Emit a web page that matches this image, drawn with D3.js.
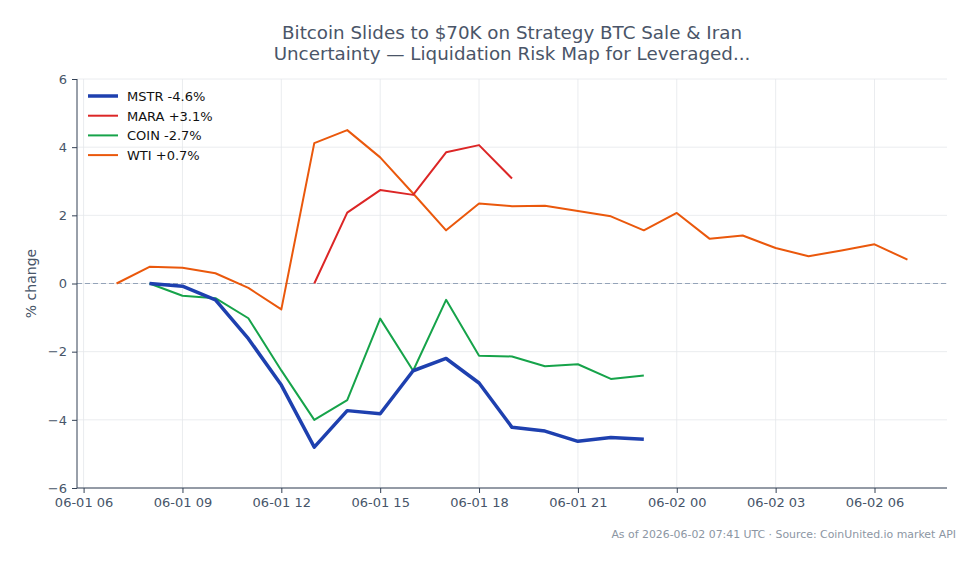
<!DOCTYPE html>
<html>
<head>
<meta charset="utf-8">
<script src="https://cdn.jsdelivr.net/npm/d3@7"></script>
<style>
  body { margin: 0; background: #fff; font-family: "DejaVu Sans", sans-serif; }
  .axis text { fill: #475569; font-size: 13px; font-family: "DejaVu Sans", sans-serif; }
  .axis path, .axis line { stroke: #334155; }
</style>
</head>
<body>
<div id="chart"></div>
<script>
// hourly timestamps (UTC)
var mstrTimes = ["2026-06-01T08", "2026-06-01T09", "2026-06-01T10", "2026-06-01T11", "2026-06-01T12", "2026-06-01T13", "2026-06-01T14", "2026-06-01T15", "2026-06-01T16", "2026-06-01T17", "2026-06-01T18", "2026-06-01T19", "2026-06-01T20", "2026-06-01T21", "2026-06-01T22", "2026-06-01T23"];
var mstrValues = [0, -0.08, -0.48, -1.62, -2.98, -4.8, -3.73, -3.82, -2.56, -2.2, -2.92, -4.22, -4.33, -4.63, -4.52, -4.57];

var maraTimes = ["2026-06-01T13", "2026-06-01T14", "2026-06-01T15", "2026-06-01T16", "2026-06-01T17", "2026-06-01T18", "2026-06-01T19"];
var maraValues = [0, 2.08, 2.74, 2.6, 3.85, 4.06, 3.08];

var coinTimes = mstrTimes;
var coinValues = [0, -0.36, -0.43, -1.02, -2.55, -4.0, -3.42, -1.03, -2.56, -0.48, -2.12, -2.14, -2.43, -2.37, -2.8, -2.7];

var wtiTimes = ["2026-06-01T07", "2026-06-01T08", "2026-06-01T09", "2026-06-01T10", "2026-06-01T11", "2026-06-01T12", "2026-06-01T13", "2026-06-01T14", "2026-06-01T15", "2026-06-01T16", "2026-06-01T17", "2026-06-01T18", "2026-06-01T19", "2026-06-01T20", "2026-06-01T21", "2026-06-01T22", "2026-06-01T23", "2026-06-02T00", "2026-06-02T01", "2026-06-02T02", "2026-06-02T03", "2026-06-02T04", "2026-06-02T05", "2026-06-02T06", "2026-06-02T07"];
var wtiValues = [0, 0.49, 0.46, 0.3, -0.13, -0.76, 4.12, 4.5, 3.7, 2.64, 1.56, 2.35, 2.27, 2.28, 2.13, 1.97, 1.56, 2.07, 1.31, 1.41, 1.04, 0.8, 0.97, 1.15, 0.7];

var seriesNames = ["MSTR -4.6%", "MARA +3.1%", "COIN -2.7%", "WTI +0.7%"];
var seriesColors = ["#1e40af", "#dc2626", "#16a34a", "#ea580c"];
var seriesWidths = [3.5, 2, 2, 2];

var xTicks = ["2026-06-01T06", "2026-06-01T09", "2026-06-01T12", "2026-06-01T15", "2026-06-01T18", "2026-06-01T21", "2026-06-02T00", "2026-06-02T03", "2026-06-02T06"];
var yTicks = [-6, -4, -2, 0, 2, 4, 6];

var parseT = d3.utcParse("%Y-%m-%dT%H");
var W = 979, H = 564;
var margin = { top: 79, right: 32, bottom: 76, left: 77 };
var width = W - margin.left - margin.right,
  height = H - margin.top - margin.bottom;

var svg = d3
  .select("#chart")
  .append("svg")
  .attr("width", W)
  .attr("height", H);

var g = svg.append("g").attr("transform", `translate(${margin.left},${margin.top})`);

var x = d3
  .scaleUtc()
  .domain([new Date(Date.UTC(2026, 5, 1, 5, 48)), new Date(Date.UTC(2026, 5, 2, 8, 12))])
  .range([0, width]);
var y = d3.scaleLinear().domain([-6, 6]).range([height, 0]);

// grid
g.append("g")
  .selectAll("line")
  .data(xTicks.map(parseT))
  .enter()
  .append("line")
  .attr("x1", (d) => x(d))
  .attr("x2", (d) => x(d))
  .attr("y1", 0)
  .attr("y2", height)
  .attr("stroke", "#e5e7eb")
  .attr("stroke-width", 0.8);
g.append("g")
  .selectAll("line")
  .data(yTicks)
  .enter()
  .append("line")
  .attr("x1", 0)
  .attr("x2", width)
  .attr("y1", (d) => y(d))
  .attr("y2", (d) => y(d))
  .attr("stroke", "#e5e7eb")
  .attr("stroke-width", 0.8);

// zero line
g.append("line")
  .attr("x1", 0)
  .attr("x2", width)
  .attr("y1", y(0))
  .attr("y2", y(0))
  .attr("stroke", "#94a3b8")
  .attr("stroke-width", 1.1)
  .attr("stroke-dasharray", "5,3");

var line = d3
  .line()
  .x((d) => x(d.t))
  .y((d) => y(d.v));

var allTimes = [mstrTimes, maraTimes, coinTimes, wtiTimes];
var allValues = [mstrValues, maraValues, coinValues, wtiValues];

// draw WTI first, MSTR on top
var order = [3, 2, 1, 0];
order.forEach(function (k) {
  var pts = allTimes[k].map((t, i) => ({ t: parseT(t), v: allValues[k][i] }));
  g.append("path")
    .attr("fill", "none")
    .attr("stroke", seriesColors[k])
    .attr("stroke-width", seriesWidths[k])
    .attr("stroke-linejoin", "round")
    .attr("d", line(pts));
});

// axes
var xAxis = g
  .append("g")
  .attr("class", "axis")
  .attr("transform", `translate(0,${height})`)
  .call(
    d3
      .axisBottom(x)
      .tickValues(xTicks.map(parseT))
      .tickFormat(d3.utcFormat("%m-%d %H"))
      .tickSizeOuter(0)
      .tickSize(5)
      .tickPadding(5)
  );
var yAxis = g
  .append("g")
  .attr("class", "axis")
  .call(
    d3
      .axisLeft(y)
      .tickValues(yTicks)
      .tickFormat((d) => (d < 0 ? "\u2212" + Math.abs(d) : d))
      .tickSizeOuter(0)
      .tickSize(5)
      .tickPadding(5)
  );
xAxis.select(".domain").attr("d", `M0,0H${width}`);
yAxis.select(".domain").attr("d", `M0,0V${height}`);

// legend
var leg = g.append("g").attr("transform", "translate(11,17)");
seriesNames.forEach(function (n, i) {
  var row = leg.append("g").attr("transform", `translate(0,${i * 19.7})`);
  row.append("line")
    .attr("x1", 0)
    .attr("x2", 30)
    .attr("stroke", seriesColors[i])
    .attr("stroke-width", seriesWidths[i] == 2 ? 2 : 3.5);
  row.append("text")
    .attr("x", 39)
    .attr("y", 5)
    .attr("font-size", 13)
    .attr("fill", "#111")
    .text(n);
});

// title
var title = svg
  .append("text")
  .attr("text-anchor", "middle")
  .attr("font-size", 18.3)
  .attr("fill", "#4a5568");
title.append("tspan").attr("x", margin.left + width / 2).attr("y", 39).text("Bitcoin Slides to $70K on Strategy BTC Sale & Iran");
title.append("tspan").attr("x", margin.left + width / 2).attr("y", 60).text("Uncertainty \u2014 Liquidation Risk Map for Leveraged...");

// y label
svg.append("text")
  .attr("transform", `translate(36,${margin.top + height / 2}) rotate(-90)`)
  .attr("text-anchor", "middle")
  .attr("font-size", 14)
  .attr("fill", "#475569")
  .text("% change");

// footer
svg.append("text")
  .attr("x", 956)
  .attr("y", 538)
  .attr("text-anchor", "end")
  .attr("font-size", 10.9)
  .attr("fill", "#8c96a3")
  .text("As of 2026-06-02 07:41 UTC \u00b7 Source: CoinUnited.io market API");
</script>
</body>
</html>
